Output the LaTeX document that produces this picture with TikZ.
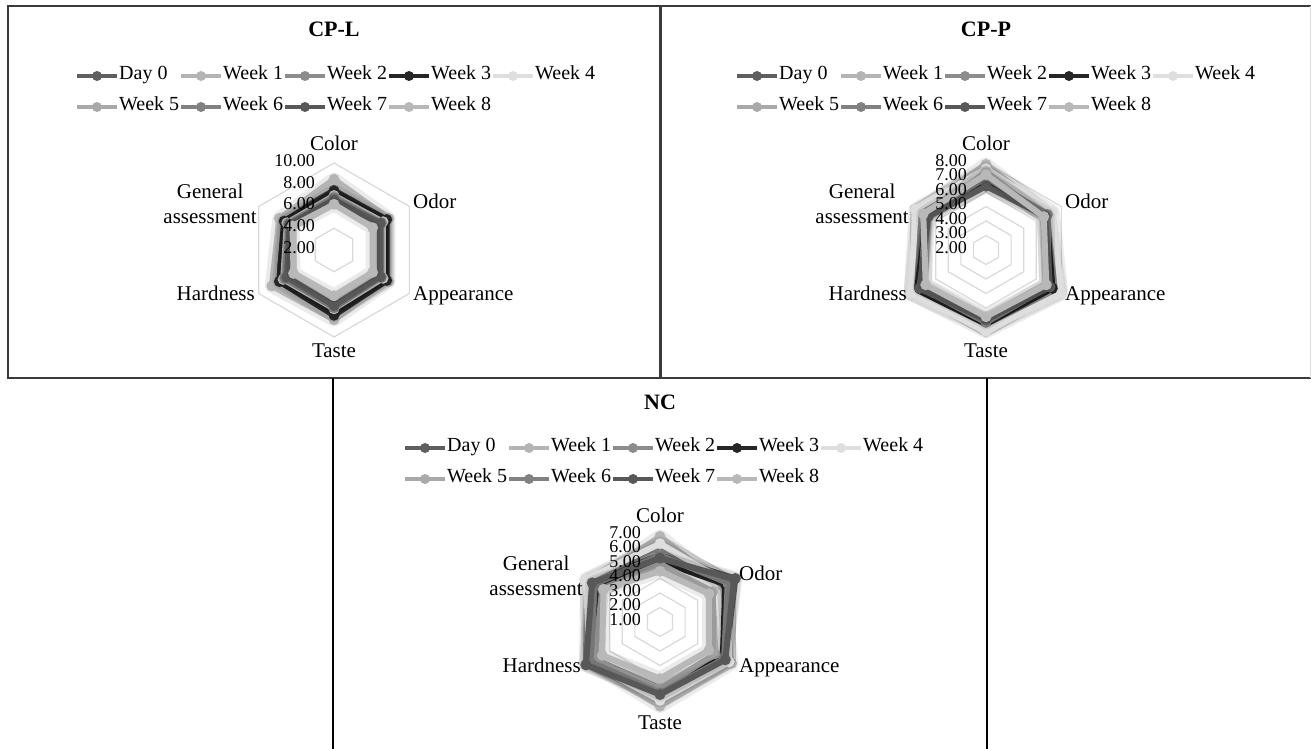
\documentclass[tikz,border=0pt]{standalone}
\usepackage{fontspec}
\setmainfont{Liberation Serif}
\usetikzlibrary{calc}
\definecolor{sA}{HTML}{5F5F5F}
\definecolor{sB}{HTML}{B4B4B4}
\definecolor{sC}{HTML}{8C8C8C}
\definecolor{sD}{HTML}{262626}
\definecolor{sE}{HTML}{DEDEDE}
\definecolor{sF}{HTML}{A9A9A9}
\definecolor{sG}{HTML}{818181}
\definecolor{sH}{HTML}{585858}
\definecolor{sI}{HTML}{B8B8B8}
\definecolor{gridc}{HTML}{D9D9D9}
\definecolor{framec}{HTML}{3A3A3A}
\tikzset{
  serieline/.style={line width=6pt,line join=round},
  glowline/.style={line width=14pt,line join=round,draw=black,draw opacity=0.08},
  gridline/.style={draw=gridc,line width=1.2pt},
  legline/.style={line width=4.5pt},
  legtext/.style={inner sep=0pt,anchor=west,font=\fontsize{20pt}{24pt}\selectfont,text height=0.66em,text depth=0pt},
  catlbl/.style={inner sep=0pt,font=\fontsize{21pt}{25pt}\selectfont,text height=0.66em,text depth=0pt},
  genlbl/.style={inner sep=0pt,font=\fontsize{21pt}{25pt}\selectfont,align=center,anchor=east},
  ticklbl/.style={inner sep=0pt,anchor=east,font=\fontsize{18pt}{20pt}\selectfont,text height=0.66em,text depth=0pt},
  titlelbl/.style={inner sep=0pt,font=\fontsize{22pt}{26pt}\selectfont\bfseries,text height=0.66em,text depth=0pt},
  panelline/.style={draw=framec,line width=2pt},
}
\newcommand{\rsPt}[2]{([shift={(\rsCX,\rsCY)}]#1:{(#2-\rsMin)*\rsK})}
\newcommand{\rsSeries}[7]{%
  \path \rsPt{-90}{#2} coordinate (q0)
        \rsPt{-30}{#3} coordinate (q1)
        \rsPt{30}{#4} coordinate (q2)
        \rsPt{90}{#5} coordinate (q3)
        \rsPt{150}{#6} coordinate (q4)
        \rsPt{210}{#7} coordinate (q5);
  \draw[glowline] (q0)--(q1)--(q2)--(q3)--(q4)--(q5)--cycle;
  \draw[serieline,draw=#1] (q0)--(q1)--(q2)--(q3)--(q4)--(q5)--cycle;
  \foreach \q in {q0,q1,q2,q3,q4,q5} \fill[#1] (\q) circle[radius=5.5pt];
}
\newcommand{\rsGrid}[1]{%
  \foreach \lv in {#1} {
    \draw[gridline] \rsPt{-90}{\lv} -- \rsPt{-30}{\lv} -- \rsPt{30}{\lv} -- \rsPt{90}{\lv} -- \rsPt{150}{\lv} -- \rsPt{210}{\lv} -- cycle;
  }
}
\newcommand{\rsTicks}[2]{%
  \foreach \lv/\tx [count=\i] in {#2} {
    \node[ticklbl] (tk#1-\i) at ({\rsCX-19},{\rsCY-(\lv-\rsMin)*\rsK}) {\tx};
  }
}
\newcommand{\rsCats}[1]{%
  \node[catlbl] (cc#1) at (\rsCX,{\rsCY-103}) {Color};
  \node[catlbl,anchor=west] (co#1) at ({\rsCX+79},{\rsCY-45}) {Odor};
  \node[catlbl,anchor=west] (ca#1) at ({\rsCX+79},{\rsCY+47}) {Appearance};
  \node[catlbl] (ct#1) at (\rsCX,{\rsCY+104}) {Taste};
  \node[catlbl,anchor=east] (ch#1) at ({\rsCX-79},{\rsCY+47}) {Hardness};
  \node[genlbl] (cg#1) at ({\rsCX-77},{\rsCY-46}) {General\\assessment};
}
\newcommand{\rsLegend}[3]{% id, start x, T
  \foreach \c/\n [count=\i from 0] in {sA/Day 0,sB/Week 1,sC/Week 2,sD/Week 3,sE/Week 4,sF/Week 5,sG/Week 6,sH/Week 7,sI/Week 8} {
    \pgfmathtruncatemacro\rsRow{\i>4 ? 1 : 0}
    \pgfmathtruncatemacro\rsCol{\i>4 ? \i-5 : \i}
    \pgfmathsetmacro\xx{#2+\rsCol*104}
    \pgfmathsetmacro\yy{#3+70+\rsRow*31}
    \draw[legline,draw=\c] (\xx,\yy) -- ({\xx+40},\yy);
    \fill[\c] ({\xx+20},\yy) circle[radius=5pt];
    \node[legtext] (lg#1-\i) at ({\xx+42},\yy) {\n};
  }
}
\begin{document}
\begin{tikzpicture}[x=1pt,y=-1pt]
\useasboundingbox (0,0) rectangle (1311,749);
\fill[white] (0,0) rectangle (1311,749);
% ---------------- frames
\draw[panelline] (8,6) rectangle (660,378);
\draw[panelline] (661,6) -- (1311,6);
\draw[panelline] (661,6) -- (661,378);
\draw[panelline] (660,378) -- (1311,378);
\draw[draw=gray!25,line width=1pt] (1310,6) -- (1310,378);
\draw[draw=black,line width=1.6pt] (333,378) -- (333,749);
\draw[draw=black,line width=1.6pt] (987,378) -- (987,749);
% ---------------- CP-L
\node[titlelbl] (t1) at (334,33) {CP-L};
\rsLegend{1}{77}{6}
\def\rsCX{334}\def\rsCY{250}\def\rsMin{2}\def\rsK{10.875}
\rsGrid{4,6,8,10}
\rsSeries{sA}{7.5}{7.6}{7.6}{7.8}{7.8}{7.5}
\rsSeries{sB}{8.5}{7.8}{7.8}{8.4}{8.6}{7.8}
\rsSeries{sC}{7.2}{7.3}{7.3}{7.5}{7.6}{7.2}
\rsSeries{sD}{7.4}{7.6}{7.6}{8.0}{7.8}{7.3}
\rsSeries{sE}{7.0}{7.2}{7.2}{7.4}{7.4}{7.0}
\rsSeries{sF}{6.9}{7.0}{7.0}{7.2}{7.3}{6.9}
\rsSeries{sG}{6.8}{7.0}{7.0}{7.3}{7.2}{6.8}
\rsSeries{sH}{6.6}{6.9}{6.9}{7.1}{7.0}{6.7}
\rsSeries{sI}{6.2}{6.1}{6.1}{6.2}{6.3}{6.4}
\rsTicks{1}{10/10.00,8/8.00,6/6.00,4/4.00,2/2.00}
\rsCats{1}
% ---------------- CP-P
\node[titlelbl] (t2) at (986,33) {CP-P};
\rsLegend{2}{737}{6}
\def\rsCX{986}\def\rsCY{250}\def\rsMin{2}\def\rsK{14.5}
\rsGrid{3,4,5,6,7,8}
\rsSeries{sA}{6.6}{6.8}{7.0}{7.0}{7.4}{6.8}
\rsSeries{sB}{7.9}{7.0}{7.9}{7.4}{8.0}{7.4}
\rsSeries{sC}{6.8}{6.9}{7.2}{6.9}{7.6}{6.9}
\rsSeries{sD}{6.5}{6.8}{7.3}{7.1}{7.5}{6.7}
\rsSeries{sE}{7.6}{7.3}{8.0}{7.6}{8.0}{7.6}
\rsSeries{sF}{7.4}{6.6}{6.8}{6.8}{6.9}{6.6}
\rsSeries{sG}{7.0}{6.9}{7.0}{7.0}{7.2}{6.8}
\rsSeries{sH}{6.4}{6.7}{7.1}{6.8}{7.3}{6.6}
\rsSeries{sI}{7.2}{6.6}{6.8}{6.6}{6.8}{7.0}
\rsTicks{2}{8/8.00,7/7.00,6/6.00,5/5.00,4/4.00,3/3.00,2/2.00}
\rsCats{2}
% ---------------- NC
\node[titlelbl] (t3) at (660,406) {NC};
\rsLegend{3}{405}{378}
\def\rsCX{660}\def\rsCY{622}\def\rsMin{1}\def\rsK{14.5}
\rsGrid{2,3,4,5,6,7}
\rsSeries{sA}{5.6}{7.0}{6.2}{5.6}{6.8}{6.6}
\rsSeries{sB}{6.9}{6.0}{6.7}{6.8}{6.6}{6.4}
\rsSeries{sC}{6.2}{6.6}{6.4}{6.2}{6.9}{6.8}
\rsSeries{sD}{5.2}{6.2}{6.0}{5.6}{6.2}{5.8}
\rsSeries{sE}{6.4}{6.4}{6.5}{6.4}{6.6}{6.9}
\rsSeries{sF}{5.0}{5.2}{5.4}{5.6}{6.2}{5.6}
\rsSeries{sG}{5.6}{6.4}{6.1}{5.9}{6.5}{6.2}
\rsSeries{sH}{5.4}{6.9}{6.2}{6.0}{6.9}{6.4}
\rsSeries{sI}{4.5}{4.9}{4.9}{4.9}{5.6}{5.5}
\rsTicks{3}{7/7.00,6/6.00,5/5.00,4/4.00,3/3.00,2/2.00,1/1.00}
\rsCats{3}
\end{tikzpicture}
\end{document}
